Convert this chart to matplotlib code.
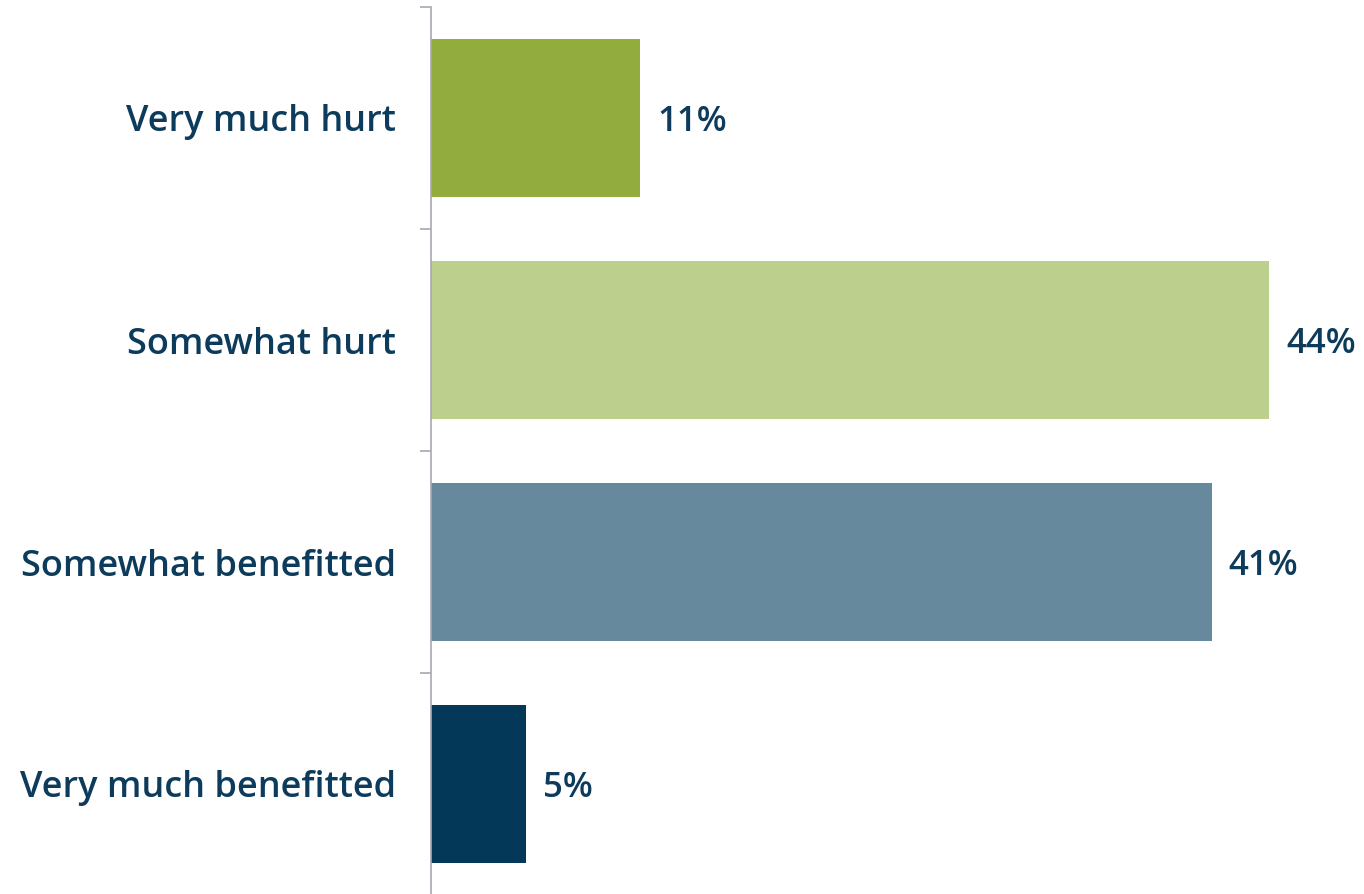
import matplotlib.pyplot as plt
import numpy as np

categories = ["Very much hurt", "Somewhat hurt", "Somewhat benefitted", "Very much benefitted"]
values = [11, 44, 41, 5]
colors = ["#92ad3e", "#bdcf8c", "#67899d", "#043858"]
text_color = "#0d3b5c"

plt.rcParams['font.family'] = ['Open Sans', 'DejaVu Sans']

fig = plt.figure(figsize=(13.64, 8.94), dpi=100)
ax = fig.add_axes([431 / 1364, -1 / 894, 1 - 431 / 1364, 888 / 894])

y = np.arange(len(categories))
ax.barh(y, values, height=0.715, color=colors)
ax.set_ylim(len(categories) - 0.5, -0.5)
ax.set_xlim(0, 49.0)

for yi, v in zip(y, values):
    ax.text(v + 0.9, yi + 0.02, f"{v}%", va='center', ha='left', fontsize=25,
            fontweight='semibold', color=text_color)

ax.set_yticks(y)
ax.set_yticklabels(categories, fontsize=26, fontweight='semibold', color=text_color)
ax.tick_params(axis='y', which='major', length=0, pad=25)
ax.set_yticks(np.arange(-0.5, len(categories)), minor=True)
ax.tick_params(axis='y', which='minor', length=8, width=1.2, color="#a6a9b0", direction='out')

ax.set_xticks([])
for s in ['top', 'right', 'bottom']:
    ax.spines[s].set_visible(False)
ax.spines['left'].set_color("#a6a9b0")
ax.spines['left'].set_linewidth(1.2)

fig.savefig("out.png", dpi=100)
